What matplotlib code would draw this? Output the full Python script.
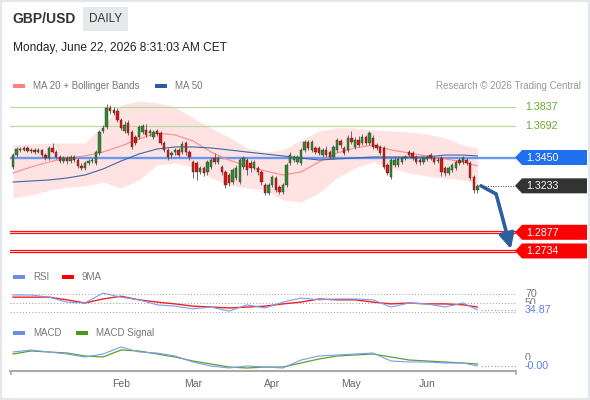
import numpy as np
import pandas as pd
import matplotlib
matplotlib.use("Agg")
import matplotlib.pyplot as plt
from matplotlib.patches import Polygon, Rectangle
from matplotlib.transforms import offset_copy

plt.rcParams["font.family"] = ["Liberation Sans", "DejaVu Sans"]

# ----------------------------------------------------
# DATA
# ----------------------------------------------------
dates = pd.bdate_range("2025-12-22", "2026-06-19")

opens = [
    1.3377, 1.3469, 1.3515, 1.3508, 1.3523, 1.3500, 1.3508, 1.3492, 1.3508, 1.3469,
    1.3446, 1.3523, 1.3492, 1.3454, 1.3423, 1.3446, 1.3423, 1.3454, 1.3431, 1.3385,
    1.3370, 1.3408, 1.3423, 1.3408, 1.3485, 1.3653, 1.3684, 1.3829, 1.3814, 1.3806,
    1.3737, 1.3653, 1.3714, 1.3646, 1.3607, 1.3607, 1.3646, 1.3661, 1.3638, 1.3607,
    1.3653, 1.3638, 1.3561, 1.3508, 1.3469, 1.3492, 1.3508, 1.3492, 1.3561, 1.3492,
    1.3416, 1.3408, 1.3339, 1.3370, 1.3339, 1.3377, 1.3446, 1.3416, 1.3377, 1.3339,
    1.3316, 1.3262, 1.3293, 1.3262, 1.3377, 1.3431, 1.3408, 1.3370, 1.3370, 1.3339,
    1.3239, 1.3178, 1.3239, 1.3293, 1.3224, 1.3186, 1.3239, 1.3408, 1.3431, 1.3416,
    1.3408, 1.3508, 1.3569, 1.3508, 1.3523, 1.3523, 1.3469, 1.3508, 1.3492, 1.3454,
    1.3508, 1.3577, 1.3523, 1.3508, 1.3600, 1.3531, 1.3584, 1.3561, 1.3607, 1.3561,
    1.3600, 1.3546, 1.3531, 1.3523, 1.3393, 1.3301, 1.3393, 1.3393, 1.3416, 1.3446,
    1.3492, 1.3485, 1.3454, 1.3431, 1.3416, 1.3439, 1.3469, 1.3446, 1.3423, 1.3446,
    1.3370, 1.3331, 1.3354, 1.3370, 1.3431, 1.3416, 1.3431, 1.3408, 1.3301, 1.3201,
]
closes = [
    1.3469, 1.3515, 1.3508, 1.3523, 1.3500, 1.3508, 1.3492, 1.3508, 1.3469, 1.3446,
    1.3523, 1.3492, 1.3454, 1.3423, 1.3446, 1.3423, 1.3454, 1.3431, 1.3385, 1.3370,
    1.3408, 1.3423, 1.3431, 1.3492, 1.3646, 1.3676, 1.3829, 1.3806, 1.3791, 1.3737,
    1.3676, 1.3699, 1.3638, 1.3531, 1.3561, 1.3684, 1.3691, 1.3623, 1.3653, 1.3646,
    1.3630, 1.3561, 1.3508, 1.3454, 1.3485, 1.3508, 1.3469, 1.3554, 1.3492, 1.3454,
    1.3339, 1.3339, 1.3370, 1.3331, 1.3416, 1.3431, 1.3416, 1.3446, 1.3339, 1.3239,
    1.3255, 1.3354, 1.3370, 1.3431, 1.3446, 1.3354, 1.3370, 1.3416, 1.3339, 1.3262,
    1.3178, 1.3239, 1.3301, 1.3201, 1.3186, 1.3239, 1.3393, 1.3469, 1.3454, 1.3454,
    1.3508, 1.3569, 1.3523, 1.3569, 1.3492, 1.3485, 1.3508, 1.3469, 1.3454, 1.3531,
    1.3584, 1.3546, 1.3485, 1.3600, 1.3569, 1.3584, 1.3546, 1.3607, 1.3561, 1.3638,
    1.3531, 1.3523, 1.3485, 1.3377, 1.3331, 1.3431, 1.3431, 1.3439, 1.3446, 1.3454,
    1.3469, 1.3446, 1.3416, 1.3416, 1.3446, 1.3454, 1.3446, 1.3416, 1.3431, 1.3339,
    1.3331, 1.3370, 1.3393, 1.3416, 1.3408, 1.3446, 1.3408, 1.3293, 1.3201, 1.3233,
]
highs = [
    1.3485, 1.3531, 1.3531, 1.3538, 1.3538, 1.3523, 1.3523, 1.3523, 1.3515, 1.3485,
    1.3538, 1.3561, 1.3508, 1.3469, 1.3462, 1.3462, 1.3469, 1.3469, 1.3446, 1.3408,
    1.3423, 1.3439, 1.3446, 1.3508, 1.3661, 1.3699, 1.3860, 1.3852, 1.3837, 1.3829,
    1.3753, 1.3730, 1.3737, 1.3661, 1.3623, 1.3699, 1.3707, 1.3707, 1.3668, 1.3661,
    1.3668, 1.3653, 1.3577, 1.3523, 1.3500, 1.3523, 1.3523, 1.3577, 1.3577, 1.3508,
    1.3431, 1.3423, 1.3385, 1.3385, 1.3431, 1.3446, 1.3485, 1.3462, 1.3393, 1.3354,
    1.3331, 1.3370, 1.3393, 1.3446, 1.3462, 1.3446, 1.3431, 1.3431, 1.3385, 1.3354,
    1.3255, 1.3255, 1.3316, 1.3308, 1.3239, 1.3255, 1.3408, 1.3492, 1.3469, 1.3469,
    1.3523, 1.3584, 1.3584, 1.3584, 1.3538, 1.3538, 1.3523, 1.3538, 1.3508, 1.3546,
    1.3600, 1.3592, 1.3538, 1.3623, 1.3653, 1.3607, 1.3615, 1.3630, 1.3623, 1.3653,
    1.3623, 1.3561, 1.3546, 1.3538, 1.3408, 1.3446, 1.3454, 1.3462, 1.3462, 1.3469,
    1.3508, 1.3500, 1.3469, 1.3454, 1.3462, 1.3469, 1.3485, 1.3462, 1.3454, 1.3462,
    1.3385, 1.3385, 1.3408, 1.3431, 1.3446, 1.3462, 1.3446, 1.3423, 1.3316, 1.3247,
]
lows = [
    1.3362, 1.3454, 1.3492, 1.3500, 1.3492, 1.3485, 1.3477, 1.3485, 1.3454, 1.3431,
    1.3431, 1.3485, 1.3439, 1.3408, 1.3408, 1.3400, 1.3408, 1.3416, 1.3370, 1.3354,
    1.3354, 1.3393, 1.3408, 1.3393, 1.3469, 1.3638, 1.3668, 1.3783, 1.3776, 1.3722,
    1.3661, 1.3638, 1.3623, 1.3515, 1.3546, 1.3592, 1.3630, 1.3607, 1.3615, 1.3592,
    1.3615, 1.3546, 1.3492, 1.3431, 1.3446, 1.3469, 1.3454, 1.3477, 1.3469, 1.3431,
    1.3293, 1.3278, 1.3324, 1.3308, 1.3316, 1.3362, 1.3400, 1.3400, 1.3316, 1.3216,
    1.3232, 1.3247, 1.3278, 1.3247, 1.3362, 1.3316, 1.3339, 1.3354, 1.3316, 1.3239,
    1.3163, 1.3163, 1.3224, 1.3186, 1.3170, 1.3170, 1.3224, 1.3393, 1.3416, 1.3400,
    1.3393, 1.3492, 1.3508, 1.3492, 1.3477, 1.3469, 1.3454, 1.3454, 1.3439, 1.3439,
    1.3492, 1.3523, 1.3469, 1.3492, 1.3554, 1.3515, 1.3531, 1.3546, 1.3546, 1.3546,
    1.3515, 1.3508, 1.3469, 1.3362, 1.3316, 1.3285, 1.3377, 1.3377, 1.3400, 1.3431,
    1.3454, 1.3431, 1.3400, 1.3393, 1.3400, 1.3423, 1.3431, 1.3400, 1.3408, 1.3308,
    1.3308, 1.3316, 1.3339, 1.3354, 1.3393, 1.3400, 1.3393, 1.3278, 1.3178, 1.3178,
]

# indicator readings, sampled every 5 candles
ind_idx = [0, 5, 10, 15, 20, 25, 30, 35, 40, 45, 50, 55, 60, 65, 70, 75, 80, 85,
           90, 95, 100, 105, 110, 115, 120, 125, 129]
ma20 = [1.3331, 1.3377, 1.3416, 1.3446, 1.3462, 1.3492, 1.3538, 1.3592, 1.3638,
        1.3623, 1.3577, 1.3492, 1.3431, 1.3385, 1.3347, 1.3316, 1.3339, 1.3416,
        1.3485, 1.3523, 1.3546, 1.3508, 1.3485, 1.3462, 1.3439, 1.3416, 1.3385]
bb_upper = [1.3546, 1.3554, 1.3561, 1.3561, 1.3561, 1.3699, 1.3852, 1.3883, 1.3868,
            1.3837, 1.3753, 1.3676, 1.3607, 1.3523, 1.3492, 1.3508, 1.3584, 1.3653,
            1.3676, 1.3676, 1.3661, 1.3653, 1.3646, 1.3630, 1.3600, 1.3546, 1.3523]
bb_lower = [1.3140, 1.3163, 1.3201, 1.3224, 1.3232, 1.3262, 1.3216, 1.3278, 1.3393,
            1.3408, 1.3377, 1.3293, 1.3239, 1.3216, 1.3201, 1.3124, 1.3109, 1.3178,
            1.3293, 1.3370, 1.3416, 1.3370, 1.3331, 1.3308, 1.3293, 1.3278, 1.3247]
ma50 = [1.3262, 1.3270, 1.3278, 1.3293, 1.3316, 1.3362, 1.3423, 1.3477, 1.3515,
        1.3531, 1.3531, 1.3523, 1.3508, 1.3492, 1.3477, 1.3462, 1.3446, 1.3431,
        1.3439, 1.3446, 1.3454, 1.3454, 1.3454, 1.3454, 1.3469, 1.3469, 1.3462]
rsi = [67.8, 67.8, 63.0, 52.0, 50.0, 72.0, 63.0, 57.0, 46.0, 43.0, 37.0, 41.0, 32.0,
       46.0, 39.0, 52.0, 61.0, 57.0, 59.0, 59.0, 57.0, 41.0, 50.0, 48.0, 41.0, 50.0, 34.87]
rsi_ma9 = [63, 63, 63, 57, 50, 59, 65, 57, 52, 48, 43, 41, 39, 41, 43, 48, 52, 59,
           57, 57, 52, 48, 50, 48, 48, 46, 41]
macd = [0.0030, 0.0040, 0.0030, 0.0020, 0.0005, 0.0020, 0.0055, 0.0030, 0.0025,
        0.0010, -0.0020, -0.0040, -0.0050, -0.0040, -0.0045, -0.0050, -0.0010,
        0.0010, 0.0015, 0.0020, 0.0025, -0.0015, -0.0020, -0.0020, -0.0025,
        -0.0025, -0.0040]
macd_signal = [0.0020, 0.0035, 0.0030, 0.0025, 0.0010, 0.0005, 0.0040, 0.0035,
               0.0020, 0.0005, -0.0015, -0.0030, -0.0045, -0.0050, -0.0045, -0.0045,
               -0.0025, -0.0005, 0.0010, 0.0015, 0.0020, 0.0005, -0.0010, -0.0015,
               -0.0020, -0.0025, -0.0030]

resistances = [1.3837, 1.3692]
pivot = 1.3450
supports = [1.2877, 1.2734]
rsi_levels = [70, 50, 30]
month_names = ["Feb", "Mar", "Apr", "May", "Jun"]

# ----------------------------------------------------
# LAYOUT (pixel based, 590x400 at 100 dpi)
# ----------------------------------------------------
W, H = 590, 400
STEP = 3.6   # pixels per candle
X0 = 13      # pixel of first candle
GREY = "#777777"


def box(x0, y0, x1, y1):
    return [x0 / W, 1 - y1 / H, (x1 - x0) / W, (y1 - y0) / H]


fig = plt.figure(figsize=(W / 100, H / 100), dpi=100, facecolor="white")
xlim = ((10 - X0) / STEP, (516 - X0) / STEP)
idx = np.arange(len(dates))
o, c = np.array(opens), np.array(closes)

# ---------------- price panel ----------------
ax = fig.add_axes(box(10, 95, 516, 258))
ax.set_xlim(*xlim)
ax.set_ylim(1.2680, 1.3929)
ax.axis("off")

ax.fill_between(ind_idx, bb_lower, bb_upper, color="#ffe3e3", lw=0, zorder=1)
ax.plot(ind_idx, ma20, color="#ff8a8a", lw=0.8, zorder=2)
ax.plot(ind_idx, ma50, color="#3d64a8", lw=0.8, zorder=2)
for lv in resistances:
    ax.axhline(lv, color="#b9dba1", lw=0.9, zorder=1.5)
ax.axhline(pivot, color="#6b98ee", lw=1.7, zorder=1.6)
# support lines drawn as a red double rule
for lv in supports:
    for dy in (-1.2, 1.2):
        tr = offset_copy(ax.get_yaxis_transform(), fig=fig, y=dy, units="dots")
        ax.plot([0, 1], [lv, lv], transform=tr, color="#ff1010", lw=0.9, zorder=2)

up = c >= o
ax.vlines(idx, lows, highs, color="#555555", lw=0.6, zorder=3)
ax.bar(idx, np.maximum(np.abs(c - o), 0.0003), bottom=np.minimum(o, c), width=0.62,
       color=np.where(up, "#2e8b2e", "#e3120b"), edgecolor="#333333",
       linewidth=0.3, zorder=4)

# dotted last price
n = idx[-1]
ax.plot([n + 2, xlim[1]], [c[-1], c[-1]], color="#444444", ls=(0, (1, 1.6)), lw=0.7)

# forecast arrow
blue_arrow = "#2d5e9e"
a0 = (n + 1, c[-1])
a1 = (n + 5.2, c[-1] - 0.0063)
a2 = (n + 9.3, supports[1] + 0.0015)
ax.plot([a0[0], a1[0]], [a0[1], a1[1]], color=blue_arrow, lw=2.6,
        solid_capstyle="round", zorder=6)
ax.annotate("", xy=a2, xytext=a1, zorder=6,
            arrowprops=dict(arrowstyle="-|>,head_length=0.9,head_width=0.45",
                            lw=2.6, color=blue_arrow, mutation_scale=10,
                            shrinkA=0, shrinkB=0))

# ---------------- RSI panel ----------------
ax_r = fig.add_axes(box(10, 285, 516, 318))
ax_r.set_xlim(*xlim)
ax_r.set_ylim(16.67, 90)
ax_r.axis("off")
for lv in rsi_levels:
    ax_r.axhline(lv, color="#999999", ls=(0, (1, 2.2)), lw=0.7)
ax_r.plot(ind_idx, rsi_ma9, color="#f02020", lw=1.0)
ax_r.plot(ind_idx, rsi, color="#7b9cf0", lw=0.8)
ax_r.plot([n + 1, xlim[1]], [rsi[-1], rsi[-1]], color="#7b9cf0", ls=(0, (1, 2)), lw=0.8)

# ---------------- MACD panel ----------------
ax_m = fig.add_axes(box(10, 340, 516, 371))
ax_m.set_xlim(*xlim)
ax_m.set_ylim(-0.0065, 0.009)
ax_m.set_facecolor("none")
for s in ["top", "left", "right"]:
    ax_m.spines[s].set_visible(False)
ax_m.spines["bottom"].set_color("#aaaaaa")
ax_m.spines["bottom"].set_linewidth(1.5)
ax_m.set_yticks([])
ax_m.plot(ind_idx, macd_signal, color="#5aa02a", lw=0.9)
ax_m.plot(ind_idx, macd, color="#7b9cf0", lw=0.8)
ax_m.plot([n + 1, xlim[1]], [macd[-1], macd[-1]], color="#7b9cf0", ls=(0, (1, 2)), lw=0.8)

month_pos = [int(np.argmax((dates.month == d.month) & (dates.year == d.year)))
             for d in pd.to_datetime(["2026-02-01", "2026-03-01", "2026-04-01",
                                      "2026-05-01", "2026-06-01"])]
ax_m.set_xticks(month_pos)
ax_m.set_xticklabels(month_names, fontsize=7.5, color="#666666")
ax_m.tick_params(axis="x", length=0, pad=6)
ax_m.set_xticks([xlim[0] + 0.2, xlim[1] - 0.05], minor=True)
ax_m.tick_params(axis="x", which="minor", length=3, width=1.2, color="#aaaaaa")

# ---------------- overlay: texts, tags ----------------
ov = fig.add_axes([0, 0, 1, 1])
ov.set_xlim(0, W)
ov.set_ylim(H, 0)
ov.axis("off")
ov.patch.set_alpha(0)


def ypx(axis, v):
    return H - axis.transData.transform((0, v))[1]


def tag(y, text, color):
    ov.add_patch(Polygon([(515, y), (522, y - 7.5), (587, y - 7.5), (587, y + 7.5),
                          (522, y + 7.5)], closed=True, fc=color, ec="none"))
    ov.text(526, y + 0.5, text, color="white", fontsize=7.7, va="center", ha="left")


ov.add_patch(Rectangle((0.75, 0.75), W - 1.5, H - 1.5, fill=False, ec="#e3e6ea", lw=1.5))

# header
ov.text(12, 19, "GBP/USD", fontsize=10, fontweight="bold", color="#333333", va="center")
ov.add_patch(Rectangle((83, 7), 45, 24, fc="#e6e8ec", ec="none"))
ov.text(105.5, 19, "DAILY", fontsize=8.5, color="#333333", va="center", ha="center")
ov.text(13, 48, "Monday, June 22, 2026 8:31:03 AM CET", fontsize=8.6,
        color="#222222", va="center")

# legends


def legend_item(x, y, color, label):
    ov.add_patch(Rectangle((x, y - 2), 12, 4, fc=color, ec="none"))
    ov.text(x + 20, y, label, fontsize=7, color=GREY, va="center")


legend_item(13, 86, "#ff8080", "MA 20 + Bollinger Bands")
legend_item(155, 86, "#2d5a9e", "MA 50")
ov.text(581, 86, "Research \u00a9 2026 Trading Central", fontsize=7, color="#999999",
        va="center", ha="right")
legend_item(13, 277, "#6a8ee8", "RSI")
legend_item(62, 277, "#ff0000", "9MA")
legend_item(13, 333, "#6a8ee8", "MACD")
legend_item(76, 333, "#4a9a1a", "MACD Signal")

# price level labels
for lv in resistances:
    ov.text(525, ypx(ax, lv), f"{lv:.4f}", fontsize=7.7, color="#68ab2a", va="center")
tag(ypx(ax, pivot), f"{pivot:.4f}", "#1f6fef")
tag(ypx(ax, c[-1]), f"{c[-1]:.4f}", "#333333")
for lv in supports:
    tag(ypx(ax, lv), f"{lv:.4f}", "#ff0000")

# RSI labels
for lv in rsi_levels[:2]:
    ov.text(525, ypx(ax_r, lv), f"{lv}", fontsize=7.7, color=GREY, va="center")
ov.text(525, ypx(ax_r, rsi[-1]), f"{rsi[-1]:.2f}", fontsize=7.7, color="#5b7fe8",
        va="center", bbox=dict(fc="white", ec="none", pad=0.6))

# MACD labels
ov.text(525, ypx(ax_m, 0), "0", fontsize=7.7, color=GREY, va="center")
ov.text(525, ypx(ax_m, macd[-1]), f"{macd[-1]:.2f}", fontsize=7.7, color="#5b7fe8",
        va="center", bbox=dict(fc="white", ec="none", pad=0.6))

fig.savefig("out.png", dpi=100, facecolor="white")
